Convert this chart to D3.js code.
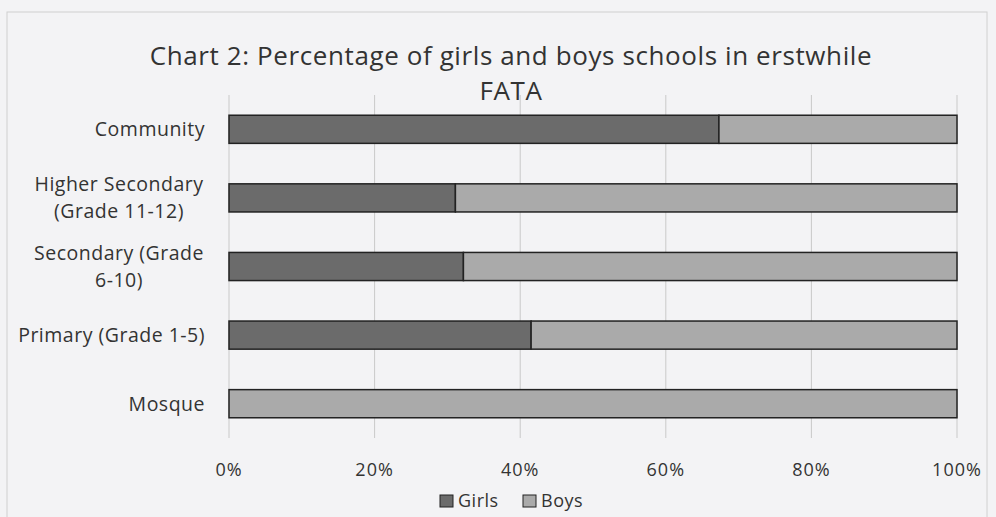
<!DOCTYPE html>
<html>
<head>
<meta charset="utf-8">
<script src="https://cdn.jsdelivr.net/npm/d3@7"></script>
<style>
  body { margin: 0; background: #f3f3f5; }
  text { font-family: "Open Sans", "DejaVu Sans", sans-serif; fill: #333; }
</style>
</head>
<body>
<div id="chart"></div>
<script>
// data
var categories = ["Community", "Higher Secondary (Grade 11-12)", "Secondary (Grade 6-10)", "Primary (Grade 1-5)", "Mosque"];
var labelLines = [["Community"], ["Higher Secondary", "(Grade 11-12)"], ["Secondary (Grade", "6-10)"], ["Primary (Grade 1-5)"], ["Mosque"]];
var girls = [67.3, 31.1, 32.2, 41.5, 0];
var boys = [32.7, 68.9, 67.8, 58.5, 100];
var ticks = [0, 20, 40, 60, 80, 100];
var seriesNames = ["Girls", "Boys"];
var colors = ["#6b6b6b", "#aaaaaa"];

var width = 996, height = 517;
var margin = {top: 95, right: 39, bottom: 79, left: 229};

var svg = d3.select("#chart").append("svg")
    .attr("width", width)
    .attr("height", height);

// faint frame of the scanned page
svg.append("rect")
    .attr("x", 7).attr("y", 12)
    .attr("width", 980).attr("height", 520)
    .attr("fill", "none")
    .attr("stroke", "#d0d0d0");

var x = d3.scaleLinear().domain([0, 100]).range([margin.left, width - margin.right]);
var y = d3.scaleBand().domain(categories).range([margin.top, height - margin.bottom]).paddingInner(0.59).paddingOuter(0.295);

// gridlines
svg.append("g").selectAll("line")
    .data(ticks).enter().append("line")
    .attr("x1", function(d) { return x(d); })
    .attr("x2", function(d) { return x(d); })
    .attr("y1", margin.top)
    .attr("y2", height - margin.bottom)
    .attr("stroke", "#c9c9c9")
    .attr("stroke-width", 1);

// stacked bars
var stackData = categories.map(function(c, i) { return {cat: c, Girls: girls[i], Boys: boys[i]}; });
var series = d3.stack().keys(seriesNames)(stackData);

svg.append("g").selectAll("g")
    .data(series).enter().append("g")
    .attr("fill", function(d, i) { return colors[i]; })
    .selectAll("rect")
    .data(function(d) { return d; }).enter().append("rect")
    .filter(function(d) { return d[1] - d[0] > 0; })
    .attr("x", function(d) { return x(d[0]); })
    .attr("width", function(d) { return x(d[1]) - x(d[0]); })
    .attr("y", function(d) { return y(d.data.cat); })
    .attr("height", y.bandwidth())
    .attr("stroke", "#222")
    .attr("stroke-width", 1.5);

// x axis tick labels
svg.append("g").selectAll("text")
    .data(ticks).enter().append("text")
    .attr("x", function(d) { return x(d); })
    .attr("y", 476)
    .attr("text-anchor", "middle")
    .style("font-size", "18px")
    .style("letter-spacing", "1px")
    .text(function(d) { return d + "%"; });

// category labels
var lab = svg.append("g").selectAll("text")
    .data(categories).enter().append("text")
    .attr("text-anchor", "middle")
    .style("font-size", "19.5px")
    .style("letter-spacing", "0.5px")
    .attr("transform", function(d, i) {
        var w = labelLines[i].length;
        return "translate(119," + (y(d) + y.bandwidth() / 2 + 7 - (w - 1) * 13.5) + ")";
    });
lab.each(function(d, i) {
    var t = d3.select(this);
    labelLines[i].forEach(function(s, j) {
        t.append("tspan").attr("x", 0).attr("dy", j ? 27 : 0).text(s);
    });
});
// single line labels sit right-aligned like the original
lab.filter(function(d, i) { return labelLines[i].length == 1; })
    .attr("text-anchor", "end")
    .attr("transform", function(d) { return "translate(205," + (y(d) + y.bandwidth() / 2 + 7) + ")"; });

// title
svg.append("text")
    .attr("x", 511).attr("y", 65)
    .attr("text-anchor", "middle")
    .style("font-size", "26px")
    .style("letter-spacing", "0.6px")
    .text("Chart 2: Percentage of girls and boys schools in erstwhile");
svg.append("text")
    .attr("x", 511).attr("y", 100)
    .attr("text-anchor", "middle")
    .style("font-size", "26px")
    .style("letter-spacing", "0.6px")
    .text("FATA");

// legend
var legend = svg.append("g").selectAll("g")
    .data(seriesNames).enter().append("g")
    .attr("transform", function(d, i) { return "translate(" + (440 + i * 83) + ",495)"; });
legend.append("rect")
    .attr("width", 13).attr("height", 12)
    .attr("fill", function(d, i) { return colors[i]; })
    .attr("stroke", "#222");
legend.append("text")
    .attr("x", 18).attr("y", 12)
    .style("font-size", "18px")
    .style("letter-spacing", "0.5px")
    .text(function(d) { return d; });
</script>
</body>
</html>
